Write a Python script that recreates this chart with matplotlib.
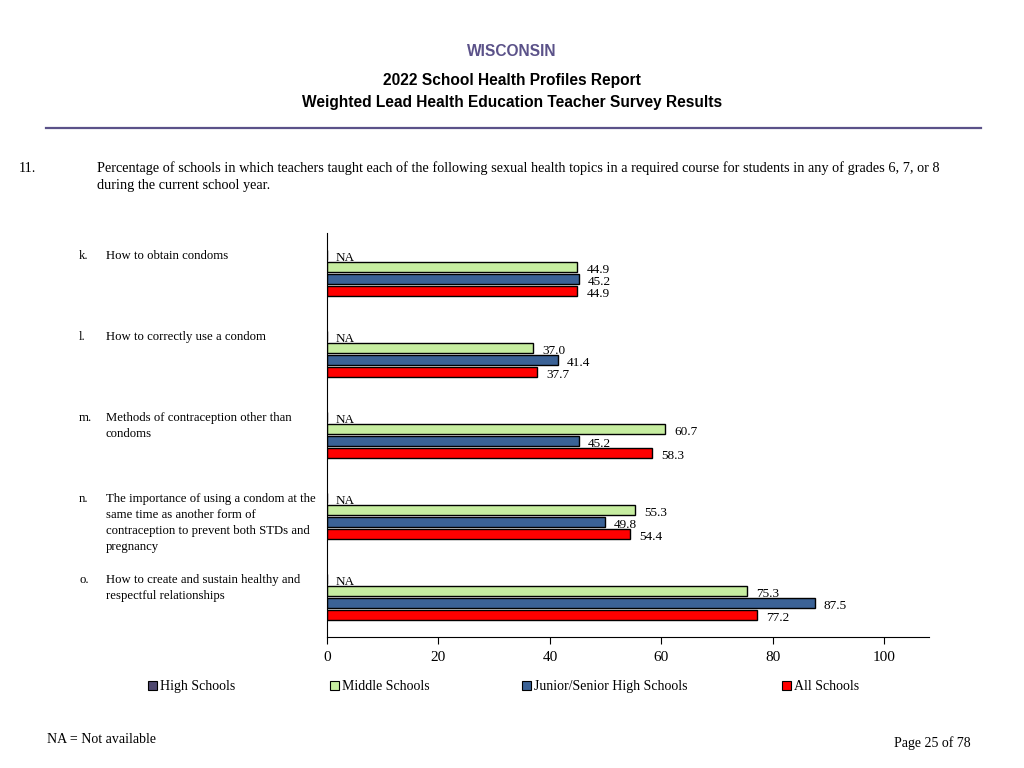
import numpy as np
import matplotlib
matplotlib.use("Agg")
import matplotlib.pyplot as plt
from matplotlib.patches import Rectangle

plt.rcParams['font.family'] = ['Liberation Serif', 'DejaVu Serif']

# Datos del gráfico
letras = ['k.', 'l.', 'm.', 'n.', 'o.']
temas = [
    'How to obtain condoms',
    'How to correctly use a condom',
    'Methods of contraception other than\ncondoms',
    'The importance of using a condom at the\nsame time as another form of\ncontraception to prevent both STDs and\npregnancy',
    'How to create and sustain healthy and\nrespectful relationships',
]
series = ['High Schools', 'Middle Schools', 'Junior/Senior High Schools', 'All Schools']
high = [np.nan, np.nan, np.nan, np.nan, np.nan]
middle = [44.9, 37.0, 60.7, 55.3, 75.3]
junior = [45.2, 41.4, 45.2, 49.8, 87.5]
todas = [44.9, 37.7, 58.3, 54.4, 77.2]
valores = [high, middle, junior, todas]
colores = ['#4f4870', '#c6eda0', '#3b6296', '#ff0000']

purpura = '#5b5289'

fig = plt.figure(figsize=(10.24, 7.68), dpi=100)

# Encabezado
for y, txt, col in [(52, 'WISCONSIN', purpura),
                    (80, '2022 School Health Profiles Report', 'black'),
                    (103, 'Weighted Lead Health Education Teacher Survey Results', 'black')]:
    fig.text(0.5, 1 - y / 768, txt, ha='center', va='center', fontsize=11.2,
             fontweight='bold', color=col, family='Liberation Sans')
fig.add_artist(plt.Line2D([46 / 1024, 981 / 1024], [1 - 128 / 768, 1 - 128 / 768],
                          color=purpura, lw=1.6, transform=fig.transFigure))

fig.text(19 / 1024, 1 - 172 / 768, '11.', va='baseline', fontsize=10.25)
fig.text(97 / 1024, 1 - 172 / 768,
         'Percentage of schools in which teachers taught each of the following sexual health topics in a required course for students in any of grades 6, 7, or 8',
         va='baseline', fontsize=10.25)
fig.text(97 / 1024, 1 - 189 / 768, 'during the current school year.', va='baseline', fontsize=10.25)

# Gráfico de barras
ax = fig.add_axes([327 / 1024, 1 - 637 / 768, (929 - 327) / 1024, (637 - 233) / 768])
paso_grupo = 6.75
for j, (nombre, vals, col) in enumerate(zip(series, valores, colores)):
    ys = np.arange(len(temas)) * paso_grupo + j
    anchos = np.nan_to_num(np.array(vals, dtype=float))
    ax.barh(ys, anchos, height=0.9, color=col, edgecolor='black', linewidth=1)
    for y, v in zip(ys, vals):
        txt = 'NA' if np.isnan(v) else f'{v:.1f}'
        ax.annotate(txt, (0 if np.isnan(v) else v, y), xytext=(6.5, -2.2),
                    textcoords='offset points', va='center', ha='left', fontsize=9.5)

for i, (letra, tema) in enumerate(zip(letras, temas)):
    y_top = 250 + i * 81
    fig.text(79 / 1024, 1 - y_top / 768, letra, va='top', fontsize=9.2)
    fig.text(106 / 1024, 1 - y_top / 768, tema, va='top', fontsize=9.2, linespacing=1.45)

ax.set_ylim(4 * paso_grupo + 3 + 1.83, -1.83)
ax.set_xlim(0, 108)
ax.set_xticks([0, 20, 40, 60, 80, 100])
ax.tick_params(axis='x', direction='out', length=5, labelsize=11, pad=5)
ax.set_yticks([])
ax.spines['top'].set_visible(False)
ax.spines['right'].set_visible(False)

# Leyenda
leyenda_x = [148, 330, 522, 782]
for nombre, col, x in zip(series, colores, leyenda_x):
    fig.add_artist(Rectangle((x / 1024, 1 - 690 / 768), 9 / 1024, 9 / 768,
                             facecolor=col, edgecolor='black', lw=0.8, transform=fig.transFigure))
    fig.text((x + 12) / 1024, 1 - 690 / 768, nombre, va='baseline', fontsize=10)

fig.text(47 / 1024, 1 - 743 / 768, 'NA = Not available', va='baseline', fontsize=10)
fig.text(971 / 1024, 1 - 747 / 768, 'Page 25 of 78', va='baseline', ha='right', fontsize=10)

fig.savefig('out.png', dpi=100)
